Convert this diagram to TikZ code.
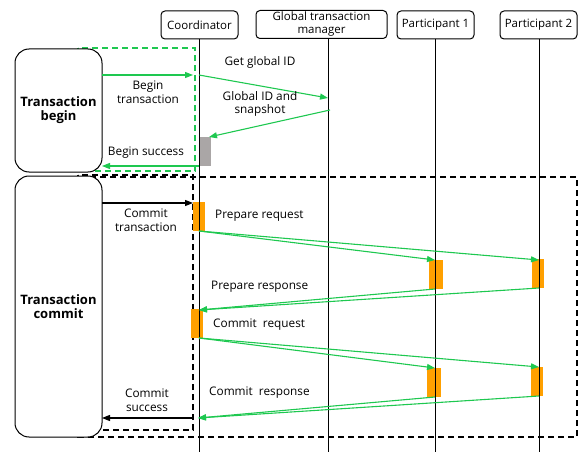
\documentclass[tikz,border=0pt]{standalone}
\usepackage{fontspec}
\setmainfont{Open Sans}
\usetikzlibrary{arrows.meta}
\definecolor{grn}{RGB}{30,200,80}
\definecolor{org}{RGB}{255,160,0}
\definecolor{gry}{RGB}{170,166,166}
\begin{document}
\begin{tikzpicture}[x=1pt,y=-1pt,
  hdr/.style={draw,line width=1pt,rounded corners=4pt,fill=white,inner sep=0pt,minimum height=28pt,align=center,font=\fontsize{11.5}{13}\selectfont},
  phase/.style={draw,line width=1pt,rounded corners=14pt,fill=white,minimum width=87pt,align=center,font=\bfseries\fontsize{13}{14}\selectfont},
  lbl/.style={inner sep=0pt,align=center,font=\fontsize{11.8}{13.5}\selectfont},
  lifeline/.style={line width=1pt},
  gmsg/.style={grn,line width=1.1pt,-{Triangle[length=8pt,width=6pt]}},
  bmsg/.style={black,line width=1.1pt,-{Triangle[length=8pt,width=6pt]}},
  gdash/.style={grn,line width=1.8pt,dash pattern=on 6pt off 4pt},
  bdash/.style={black,line width=1.8pt,dash pattern=on 6pt off 4pt},
  act/.style={fill=org,draw=none},
]
\useasboundingbox (0,0) rectangle (579,452);

% dashed frames
\draw[gdash] (78,48) rectangle (195,171);
\draw[bdash] (78,175) rectangle (193,430);
\draw[bdash] (78,177) rectangle (577,437);

% activation boxes
\fill[gry] (200,137) rectangle (211,166);
\fill[org] (193,202) rectangle (205,231);
\fill[org] (191,309) rectangle (203,338);
\fill[org] (429,260) rectangle (443,289);
\fill[org] (532,259) rectangle (544,288);
\fill[org] (427,368) rectangle (441,397);
\fill[org] (531,367) rectangle (543,396);

% headers
\node[hdr,minimum width=77pt] (co) at (199.5,25) {Coordinator};
\node[hdr,minimum width=131pt] (gtm) at (321.5,24.5) {Global transaction\\manager};
\node[hdr,minimum width=77pt] (p1) at (435.5,25) {Participant 1};
\node[hdr,minimum width=77pt] (p2) at (538.5,25) {Participant 2};

% lifelines
\coordinate (cotop) at (199,39);
\coordinate (cobot) at (199,452);
\coordinate (gtop) at (328,39);
\coordinate (gbot) at (328,452);
\coordinate (p1top) at (435,39);
\coordinate (p1bot) at (435,452);
\coordinate (p2top) at (539,39);
\coordinate (p2bot) at (539,452);
\draw[lifeline] (cotop) -- (cobot);
\draw[lifeline] (gtop) -- (gbot);
\draw[lifeline] (p1top) -- (p1bot);
\draw[lifeline] (p2top) -- (p2bot);

% phases
\node[phase,minimum height=123pt] (tb) at (58.5,110.5) {Transaction\\begin};
\node[phase,minimum height=261pt] (tc) at (58.5,306.5) {Transaction\\commit};

% message coordinates
\coordinate (a1) at (102,75);  \coordinate (a2) at (193,75);
\coordinate (b1) at (199,75);  \coordinate (b2) at (328,98);
\coordinate (c1) at (330,110); \coordinate (c2) at (209,137);
\coordinate (d1) at (199,166); \coordinate (d2) at (102,166);
\coordinate (e1) at (102,203); \coordinate (e2) at (193,203);
\coordinate (f0) at (199,231); \coordinate (f1) at (435,260); \coordinate (f2) at (539,260);
\coordinate (g1) at (435,289); \coordinate (g2) at (539,288); \coordinate (g0) at (199,310);
\coordinate (h0) at (199,338); \coordinate (h1) at (435,368); \coordinate (h2) at (539,367);
\coordinate (i1) at (435,397); \coordinate (i2) at (539,396); \coordinate (i0) at (198,418);
\coordinate (j1) at (193,418); \coordinate (j2) at (102,418);

\draw[gmsg] (a1) -- (a2);
\draw[gmsg] (b1) -- (b2);
\draw[gmsg] (c1) -- (c2);
\draw[gmsg] (d1) -- (d2);
\draw[bmsg] (e1) -- (e2);
\draw[gmsg] (f0) -- (f1);
\draw[gmsg] (f0) -- (f2);
\draw[gmsg] (g1) -- (g0);
\draw[gmsg] (g2) -- (g0);
\draw[gmsg] (h0) -- (h1);
\draw[gmsg] (h0) -- (h2);
\draw[gmsg] (i1) -- (i0);
\draw[gmsg] (i2) -- (i0);
\draw[bmsg] (j1) -- (j2);

% labels
\node[lbl] (l1) at (148,92) {Begin\\transaction};
\node[lbl] (l2) at (260,62) {Get global ID};
\node[lbl] (l3) at (260,104) {Global ID and\\snapshot};
\node[lbl] (l4) at (146,153) {Begin success};
\node[lbl] (l5) at (146,220) {Commit\\transaction};
\node[lbl,anchor=west] (l6) at (215,216) {Prepare request};
\node[lbl,anchor=west] (l7) at (211,287) {Prepare response};
\node[lbl,anchor=west] (l8) at (213,325) {Commit\ \ request};
\node[lbl,anchor=west] (l9) at (209,393) {Commit\ \ response};
\node[lbl] (l10) at (147,400) {Commit\\success};
\end{tikzpicture}
\end{document}
